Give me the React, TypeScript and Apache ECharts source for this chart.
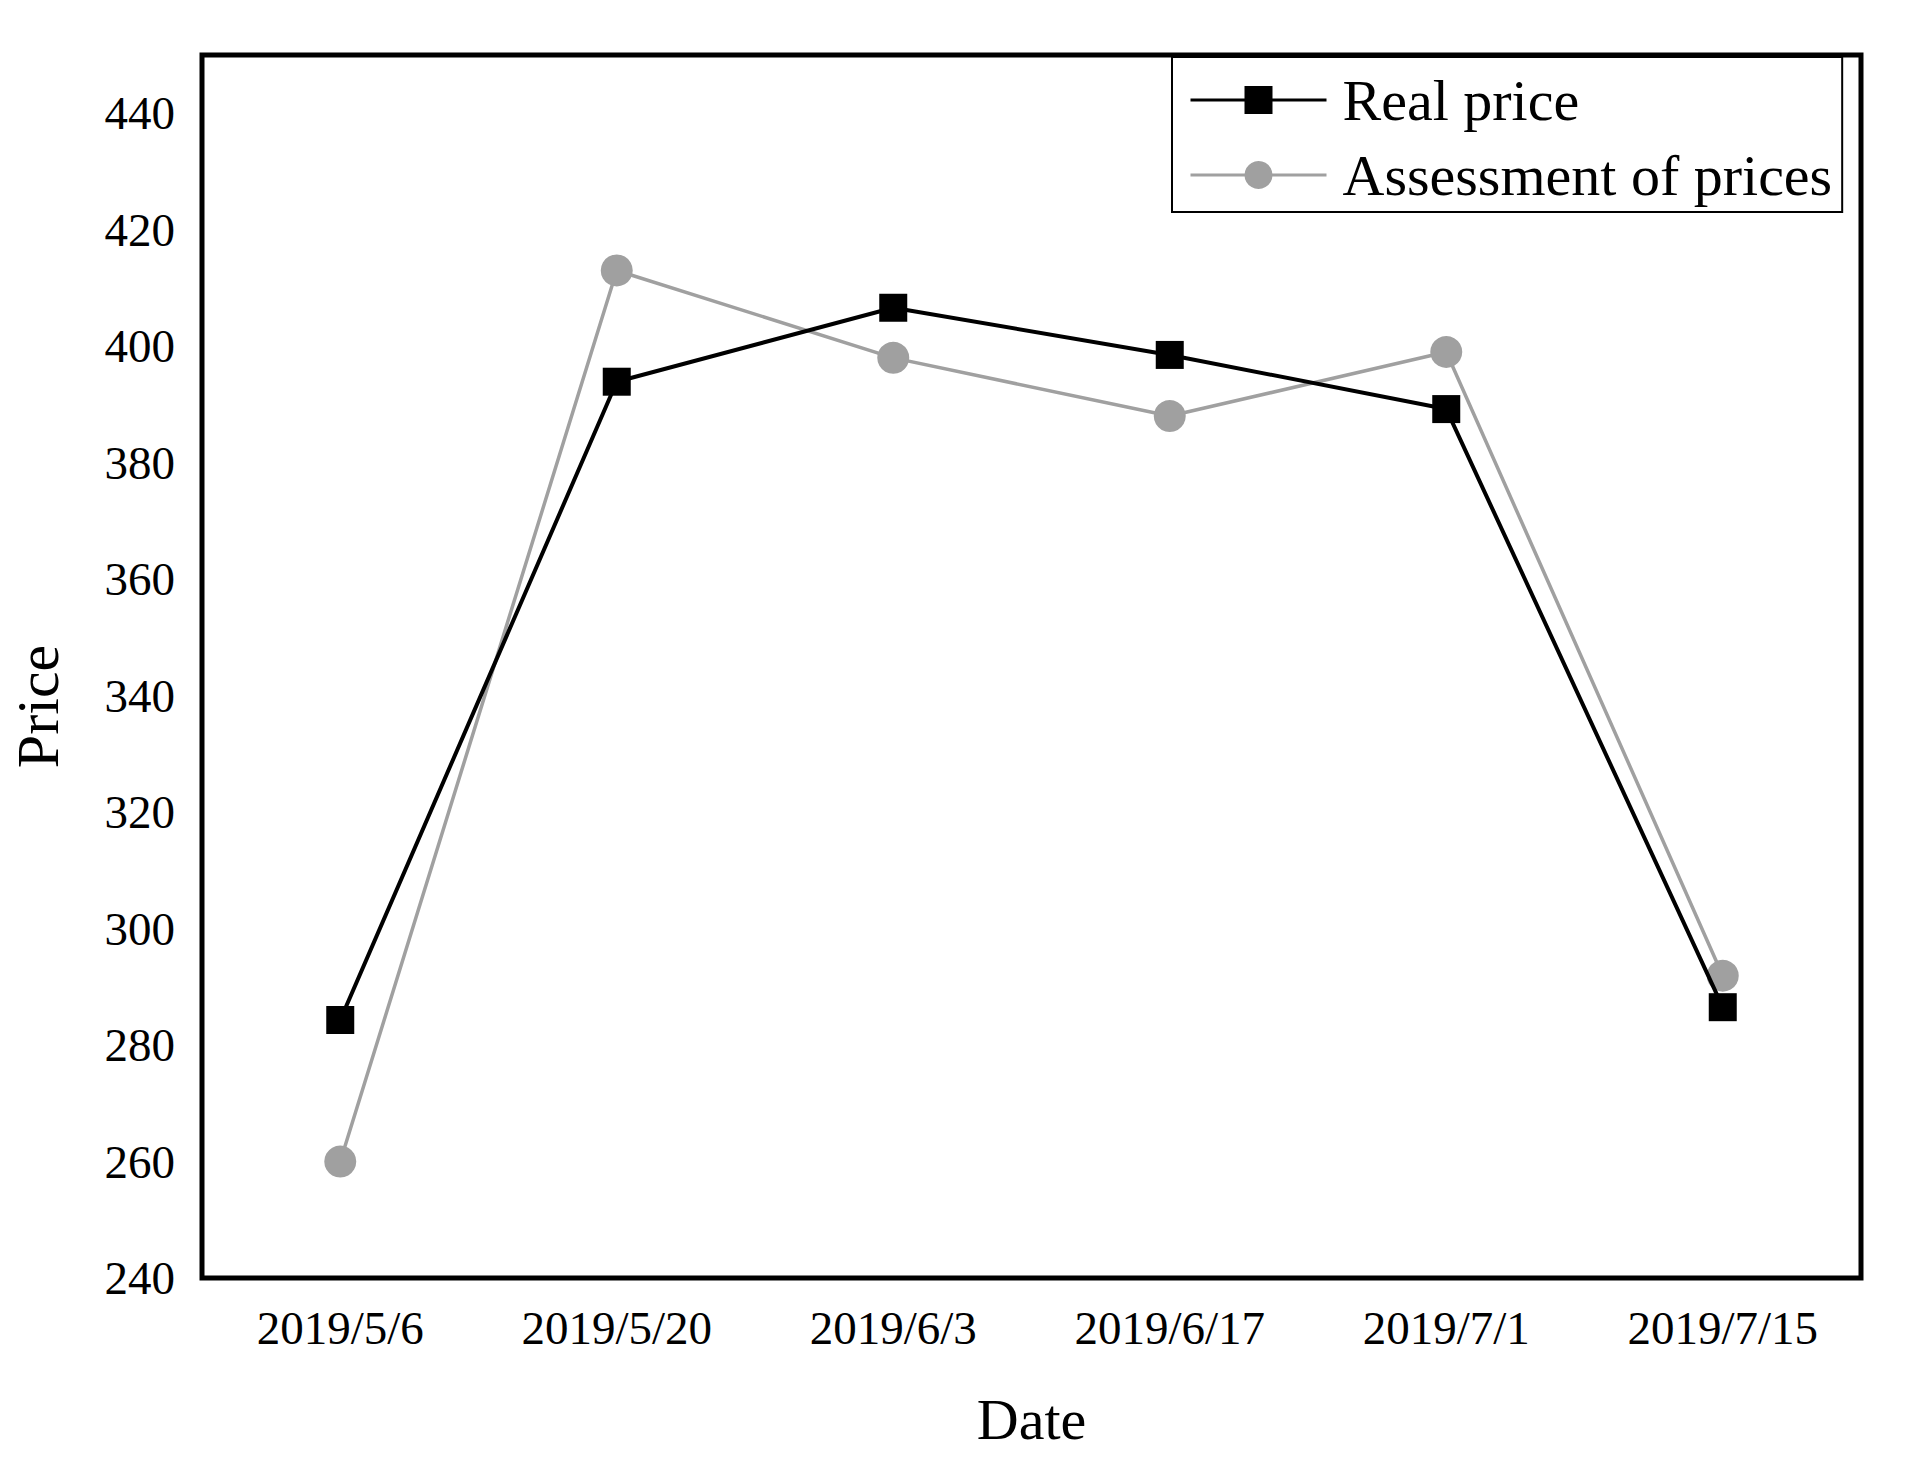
import React, { useEffect, useRef } from "react";
import * as echarts from "echarts";

const categories = ["2019/5/6", "2019/5/20", "2019/6/3", "2019/6/17", "2019/7/1", "2019/7/15"];
const realPrice = [284.3, 393.9, 406.6, 398.5, 389.2, 286.5];
const assessedPrice = [260, 413, 398, 388, 399, 291.9];
const seriesNames = ["Real price", "Assessment of prices"];
const yMin = 240;
const yMax = 450;
const yInterval = 20;

const FONT = "'Liberation Serif', 'Times New Roman', serif";

export default function App() {
  const ref = useRef<HTMLDivElement>(null);
  useEffect(() => {
    if (!ref.current) return;
    const chart = echarts.init(ref.current, undefined, { renderer: "svg" });
    chart.setOption({
      animation: false,
      backgroundColor: "#ffffff",
      textStyle: { fontFamily: FONT },
      grid: {
        left: 200,
        right: 57,
        top: 55,
        bottom: 194,
        show: true,
        borderColor: "#000",
        borderWidth: 5,
        backgroundColor: "transparent",
        containLabel: false,
      },
      legend: {
        orient: "vertical",
        left: 1172,
        top: 57,
        data: seriesNames,
        backgroundColor: "#fff",
        borderColor: "#000",
        borderWidth: 2,
        borderRadius: 0,
        padding: [14, 10, 8, 17],
        itemGap: 17,
        itemWidth: 136,
        itemHeight: 35,
        lineStyle: { width: 3 },
        textStyle: {
          fontFamily: FONT,
          fontSize: 58,
          color: "#000",
          padding: [0, 0, 0, 11],
        },
      },
      xAxis: {
        type: "category",
        data: categories,
        boundaryGap: true,
        name: "Date",
        nameLocation: "middle",
        nameGap: 112,
        nameTextStyle: { fontFamily: FONT, fontSize: 58, color: "#000" },
        axisLine: { show: false },
        axisTick: { show: false },
        axisLabel: { fontFamily: FONT, fontSize: 47, color: "#000", margin: 26 },
        splitLine: { show: false },
      },
      yAxis: {
        type: "value",
        min: yMin,
        max: yMax,
        interval: yInterval,
        name: "Price",
        nameLocation: "middle",
        nameGap: 134,
        nameTextStyle: { fontFamily: FONT, fontSize: 60, color: "#000", padding: [0, 80, 0, 0] },
        axisLine: { show: false },
        axisTick: { show: false },
        axisLabel: {
          fontFamily: FONT,
          fontSize: 47,
          color: "#000",
          margin: 27,
          padding: [0, 0, 6, 0],
          showMaxLabel: false,
        },
        splitLine: { show: false },
      },
      series: [
        {
          name: seriesNames[0],
          type: "line",
          data: realPrice,
          symbol: "rect",
          symbolSize: 28,
          lineStyle: { color: "#000", width: 4 },
          itemStyle: { color: "#000" },
          z: 3,
        },
        {
          name: seriesNames[1],
          type: "line",
          data: assessedPrice,
          symbol: "circle",
          symbolSize: 32,
          lineStyle: { color: "#a0a0a0", width: 3.5 },
          itemStyle: { color: "#a0a0a0" },
          z: 2,
        },
      ],
    });
    return () => chart.dispose();
  }, []);
  return (
    <div
      ref={ref}
      style={{ position: "absolute", left: 0, top: 0, width: 1918, height: 1472, background: "#fff" }}
    />
  );
}
